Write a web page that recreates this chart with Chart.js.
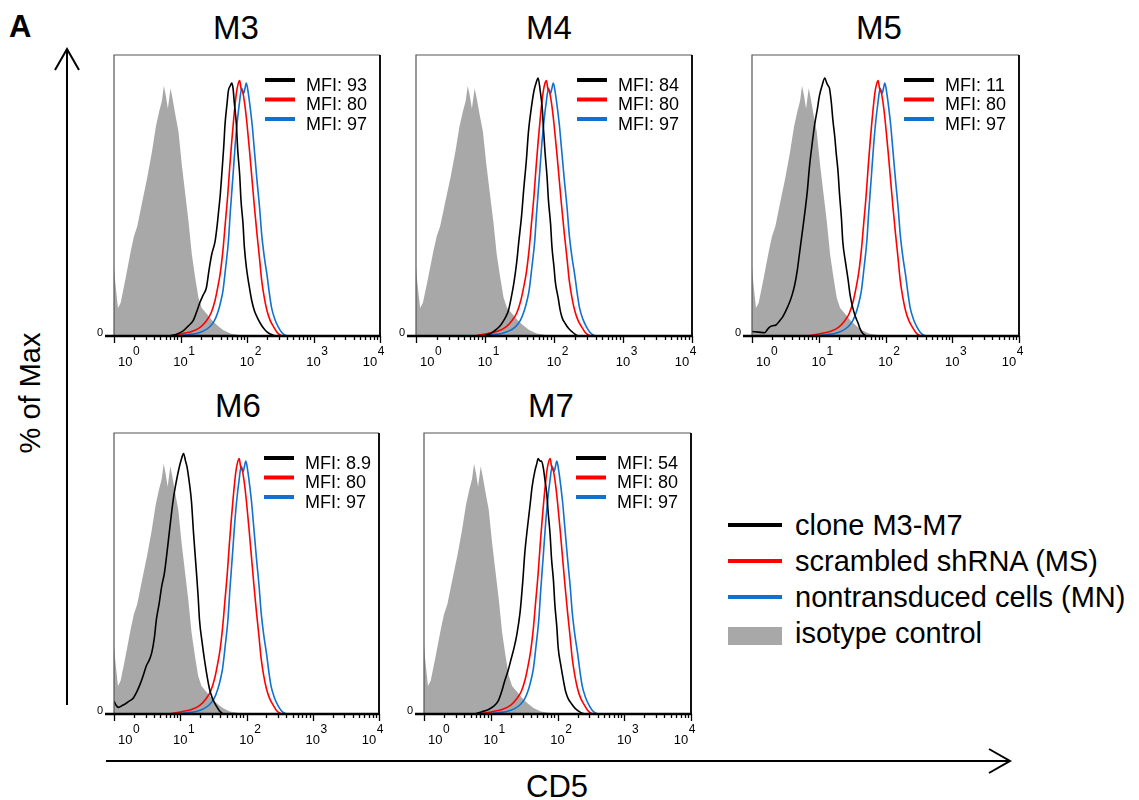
<!DOCTYPE html>
<html>
<head>
<meta charset="utf-8">
<script src="https://cdn.jsdelivr.net/npm/chart.js@4.4.0/dist/chart.umd.min.js"></script>
<style>
  body { margin: 0; background: #fff; }
  #fig { position: relative; width: 1139px; height: 800px; font-family: 'Liberation Sans', Arial, sans-serif; color: #000; overflow: hidden; }
  #fig canvas { position: absolute; }
  .lbl { position: absolute; white-space: nowrap; line-height: 1; }
  .title { font-size: 33px; transform: translate(-50%, -50%); }
  .leg { position: absolute; left: 728px; width: 54px; }
  .legtxt { position: absolute; left: 795px; font-size: 29px; transform: translateY(-50%); white-space: nowrap; }
</style>
</head>
<body>
<div id="fig">
  <svg width="1139" height="800" style="position:absolute;left:0;top:0">
    <g stroke="#000" stroke-width="2" fill="none">
      <line x1="67" y1="705" x2="67" y2="49"/>
      <polyline points="55,70 67,49 79,70"/>
      <line x1="106" y1="761" x2="1010" y2="761"/>
      <polyline points="989,749 1010,761 989,773"/>
    </g>
  </svg>
  <div class="lbl" style="left:9px;top:11px;font-size:31px;font-weight:bold">A</div>
  <div class="lbl" style="left:30px;top:393px;font-size:29px;transform:translate(-50%,-50%) rotate(-90deg)">% of Max</div>
  <div class="lbl" style="left:557px;top:786px;font-size:31px;transform:translate(-50%,-50%)">CD5</div>

  <div class="leg" style="top:523px;height:4px;background:#000"></div>
  <div class="leg" style="top:559px;height:4px;background:#ff0000"></div>
  <div class="leg" style="top:595px;height:4px;background:#1170d0"></div>
  <div class="leg" style="top:627px;height:18px;background:#a8a8a8"></div>
  <div class="legtxt" style="top:525px">clone M3-M7</div>
  <div class="legtxt" style="top:561px">scrambled shRNA (MS)</div>
  <div class="legtxt" style="top:597px">nontransduced cells (MN)</div>
  <div class="legtxt" style="top:633px">isotype control</div>
</div>

<script>
// decades of the CD5 axis (10^0 .. 10^4)
const decades = [0, 1, 2, 3, 4];

// isotype control (grey, same in every panel) - x in log10(CD5), y in % of max
const isoLog = [0, 0.015, 0.06, 0.1, 0.17, 0.25, 0.3, 0.35, 0.42, 0.5, 0.57, 0.63, 0.68, 0.72, 0.75, 0.78, 0.81, 0.85, 0.88, 0.92, 0.97, 1.02, 1.07, 1.12, 1.17, 1.22, 1.27, 1.32, 1.40, 1.48, 1.56, 1.64, 1.75, 1.9, 2.05, 4];
const isoPct = [27, 22, 11, 13, 22, 33, 39, 43, 52, 62, 72, 82, 88, 92, 98, 94, 89, 97, 93, 87, 80, 67, 56, 45, 32, 23, 15, 11, 8.5, 6, 4, 2.3, 1, 0.3, 0, 0];

// scrambled shRNA (MS), red, MFI 80
const msLog = [0.84, 1.0, 1.19, 1.30, 1.39, 1.46, 1.52, 1.56, 1.60, 1.64, 1.67, 1.71, 1.74, 1.77, 1.80, 1.84, 1.87, 1.89, 1.91, 1.94, 1.97, 2.00, 2.04, 2.07, 2.11, 2.15, 2.19, 2.22, 2.26, 2.30, 2.35, 2.40, 2.45, 2.50, 2.56, 4];
const msPct = [0, 0.8, 2, 3.5, 6, 9, 14, 19, 25, 34, 43, 55, 66, 76, 85, 95, 99, 100, 97, 95, 90, 83, 72, 63, 51, 40, 30, 22, 15, 10, 6, 3.6, 1.5, 0.4, 0, 0];

// nontransduced cells (MN), blue, MFI 97
const mnLog = [0.94, 1.10, 1.24, 1.35, 1.44, 1.51, 1.57, 1.61, 1.64, 1.68, 1.72, 1.75, 1.79, 1.82, 1.85, 1.89, 1.92, 1.95, 1.97, 1.99, 2.02, 2.05, 2.08, 2.10, 2.13, 2.15, 2.19, 2.22, 2.26, 2.30, 2.34, 2.37, 2.42, 2.47, 2.52, 2.57, 2.62, 4];
const mnPct = [0, 0.5, 1, 2, 3.6, 6, 10, 14, 18, 27, 37, 49, 63, 74, 83, 92, 97, 95, 97, 99, 95, 89, 82, 76, 67, 61, 50, 40, 31, 24, 16, 11, 6.5, 3.6, 1.5, 0.4, 0, 0];

// clones (black)
const m3Log = [0.84, 0.95, 1.04, 1.12, 1.19, 1.25, 1.29, 1.34, 1.39, 1.43, 1.47, 1.52, 1.55, 1.57, 1.60, 1.62, 1.65, 1.67, 1.70, 1.72, 1.75, 1.77, 1.79, 1.81, 1.84, 1.86, 1.89, 1.91, 1.94, 1.96, 1.99, 2.03, 2.07, 2.11, 2.15, 2.20, 2.25, 2.30, 2.35, 2.45, 4];
const m3Pct = [0, 0.8, 2, 4, 6, 10, 13, 16, 19, 26, 32, 37, 43, 48, 56, 63, 74, 83, 91, 96, 98, 99, 97, 91, 83, 73, 63, 53, 44, 35, 27, 20, 14, 10, 7.5, 5, 3, 1.6, 0.8, 0, 0];

const m4Log = [0.98, 1.08, 1.15, 1.22, 1.27, 1.31, 1.34, 1.38, 1.42, 1.46, 1.49, 1.53, 1.56, 1.60, 1.63, 1.67, 1.71, 1.74, 1.77, 1.80, 1.83, 1.85, 1.87, 1.90, 1.92, 1.95, 1.97, 2.00, 2.02, 2.06, 2.09, 2.12, 2.16, 2.21, 2.26, 2.31, 2.36, 4];
const m4Pct = [0, 1, 2.3, 4, 6, 8, 10, 15, 21, 29, 37, 47, 57, 69, 80, 89, 96, 99, 101, 96, 89, 80, 72, 62, 53, 44, 35, 27, 21, 15, 10, 7, 5, 3, 1.7, 0.6, 0, 0];

const m5Log = [0, 0.1, 0.19, 0.23, 0.26, 0.31, 0.36, 0.41, 0.46, 0.51, 0.56, 0.60, 0.64, 0.68, 0.71, 0.75, 0.79, 0.83, 0.86, 0.90, 0.94, 0.98, 1.01, 1.05, 1.09, 1.12, 1.14, 1.16, 1.19, 1.21, 1.24, 1.26, 1.29, 1.31, 1.34, 1.36, 1.40, 1.44, 1.47, 1.51, 1.55, 1.59, 1.62, 1.66, 1.74, 4];
const m5Pct = [1.7, 1.5, 1.3, 2.5, 3.4, 4, 4.3, 5.8, 7.5, 10, 13, 16, 20, 26, 32, 40, 48, 57, 66, 75, 83, 89, 94, 98, 101, 99, 98, 97, 91, 85, 78, 72, 64, 56, 46, 37, 29, 22, 16, 11, 7.5, 5, 2.8, 1, 0, 0];

const m6Log = [0, 0.03, 0.065, 0.13, 0.19, 0.24, 0.29, 0.34, 0.39, 0.44, 0.49, 0.53, 0.57, 0.61, 0.64, 0.68, 0.72, 0.76, 0.79, 0.83, 0.87, 0.90, 0.94, 0.98, 1.02, 1.05, 1.08, 1.10, 1.14, 1.17, 1.20, 1.24, 1.27, 1.29, 1.33, 1.37, 1.41, 1.44, 1.48, 1.52, 1.56, 1.59, 1.67, 4];
const m6Pct = [5, 3.5, 2.6, 3.4, 4.3, 5.2, 6.2, 8.5, 11.4, 15, 19, 21, 24, 30, 37, 43, 50, 55, 61, 70, 79, 85, 91, 96, 100, 102, 99, 97, 90, 83, 71, 57, 46, 37, 28, 20.5, 14, 10, 6.5, 4.3, 2.5, 1.3, 0, 0];

const m7Log = [0.76, 0.86, 0.96, 1.04, 1.11, 1.16, 1.21, 1.26, 1.31, 1.35, 1.39, 1.44, 1.48, 1.51, 1.55, 1.59, 1.62, 1.66, 1.69, 1.71, 1.74, 1.76, 1.79, 1.81, 1.84, 1.86, 1.89, 1.91, 1.94, 1.96, 1.99, 2.01, 2.05, 2.09, 2.12, 2.16, 2.21, 2.26, 2.31, 2.36, 2.44, 4];
const m7Pct = [0, 0.8, 1.7, 3, 5, 8.5, 13, 17, 22, 26, 31, 40, 52, 63, 73, 82, 89, 95, 98, 100, 99, 99, 96, 92, 86, 79, 70, 61, 52, 43, 34, 26, 19, 13, 9, 6, 4, 2.3, 1.2, 0.4, 0, 0];

const panelNames = ['M3', 'M4', 'M5', 'M6', 'M7'];
const cloneMfi = ['93', '84', '11', '8.9', '54'];
const msMfi = '80';
const mnMfi = '97';
const cloneLogs = [m3Log, m4Log, m5Log, m6Log, m7Log];
const clonePcts = [m3Pct, m4Pct, m5Pct, m6Pct, m7Pct];

// plot boxes on the page (layout only)
const boxes = [
  { l: 114, t: 55, r: 380, b: 336 },
  { l: 416, t: 55, r: 692, b: 336 },
  { l: 752, t: 55, r: 1019, b: 336 },
  { l: 114, t: 433, r: 379, b: 714 },
  { l: 424, t: 433, r: 691, b: 714 }
];
const titlePos = [[236, 27], [549, 27], [879, 27], [238, 405], [551, 405]];

const BLACK = '#000000', RED = '#ff0000', BLUE = '#1170d0', GREY = '#a8a8a8';
const FONT = "'Liberation Sans', Arial, sans-serif";

function pts(logs, pcts) {
  return logs.map((d, i) => ({ x: Math.pow(10, d), y: pcts[i] }));
}

// frame, ticks, decade labels and the little MFI legend of each panel
const panelDeco = {
  id: 'panelDeco',
  afterDatasetsDraw(chart, args, opts) {
    const ctx = chart.ctx;
    const a = chart.chartArea;
    const xs = chart.scales.x;
    ctx.save();

    ctx.strokeStyle = '#555';
    ctx.lineWidth = 1.2;
    ctx.beginPath();
    ctx.moveTo(a.left, a.bottom);
    ctx.lineTo(a.left, a.top);
    ctx.lineTo(a.right, a.top);
    ctx.stroke();
    ctx.strokeStyle = '#111';
    ctx.lineWidth = 2;
    ctx.beginPath();
    ctx.moveTo(a.right, a.top);
    ctx.lineTo(a.right, a.bottom);
    ctx.stroke();

    // baseline + y tick at 0
    ctx.strokeStyle = '#000';
    ctx.lineWidth = 2.5;
    ctx.beginPath();
    ctx.moveTo(a.left - 9, a.bottom);
    ctx.lineTo(a.right + 1, a.bottom);
    ctx.stroke();

    // x ticks
    ctx.lineWidth = 1.3;
    ctx.beginPath();
    decades.forEach(n => {
      const maxK = n === 4 ? 1 : 9;
      for (let k = 1; k <= maxK; k++) {
        const px = Math.round(xs.getPixelForValue(k * Math.pow(10, n))) + 0.5;
        const len = k === 1 ? 7 : 4;
        ctx.moveTo(px, a.bottom);
        ctx.lineTo(px, a.bottom + len);
      }
    });
    ctx.stroke();

    // decade labels 10^n
    ctx.fillStyle = '#000';
    ctx.textBaseline = 'middle';
    ctx.textAlign = 'left';
    decades.forEach((n, i) => {
      const px = xs.getPixelForValue(Math.pow(10, n));
      ctx.font = '13px ' + FONT;
      const w1 = ctx.measureText('10').width;
      ctx.font = '12px ' + FONT;
      const w2 = ctx.measureText(String(n)).width;
      let start = px - w1 / 2;
      if (i === 0) start = px + 4;
      if (i === decades.length - 1) start = px + 4 - w1 - w2;
      ctx.font = '13px ' + FONT;
      ctx.fillText('10', start, a.bottom + 26);
      ctx.font = '12px ' + FONT;
      ctx.fillText(String(n), start + w1 + 0.5, a.bottom + 16);
    });

    // y "0"
    ctx.font = '11px ' + FONT;
    ctx.textAlign = 'right';
    ctx.fillText('0', a.left - 11, a.bottom - 3);

    // MFI legend
    const rows = [[BLACK, opts.clone], [RED, msMfi], [BLUE, mnMfi]];
    ctx.textAlign = 'left';
    ctx.font = '18px ' + FONT;
    rows.forEach((r, i) => {
      const y = a.top + 25 + i * 19.5;
      ctx.strokeStyle = r[0];
      ctx.lineWidth = 4;
      ctx.beginPath();
      ctx.moveTo(a.right - 115, y);
      ctx.lineTo(a.right - 85, y);
      ctx.stroke();
      ctx.fillText('MFI: ' + r[1], a.right - 74, y + 6);
    });
    ctx.restore();
  }
};

const fig = document.getElementById('fig');
const PAD = { left: 40, right: 10, top: 5, bottom: 40 };

panelNames.forEach((name, i) => {
  const b = boxes[i];
  const cv = document.createElement('canvas');
  const w = b.r - b.l + PAD.left + PAD.right;
  const h = b.b - b.t + PAD.top + PAD.bottom;
  cv.width = w;
  cv.height = h;
  cv.style.left = (b.l - PAD.left) + 'px';
  cv.style.top = (b.t - PAD.top) + 'px';
  cv.style.width = w + 'px';
  cv.style.height = h + 'px';
  fig.appendChild(cv);

  const t = document.createElement('div');
  t.className = 'lbl title';
  t.style.left = titlePos[i][0] + 'px';
  t.style.top = titlePos[i][1] + 'px';
  t.textContent = name;
  fig.appendChild(t);

  const line = (data, color, order) => ({
    data: data,
    borderColor: color,
    borderWidth: 1.6,
    pointRadius: 0,
    fill: false,
    cubicInterpolationMode: 'monotone',
    order: order
  });

  new Chart(cv.getContext('2d'), {
    type: 'line',
    data: {
      datasets: [
        line(pts(cloneLogs[i], clonePcts[i]), BLACK, 0),
        line(pts(msLog, msPct), RED, 1),
        line(pts(mnLog, mnPct), BLUE, 2),
        {
          data: pts(isoLog, isoPct),
          borderWidth: 0,
          borderColor: GREY,
          backgroundColor: GREY,
          pointRadius: 0,
          fill: 'origin',
          tension: 0,
          order: 3
        }
      ]
    },
    options: {
      responsive: false,
      animation: false,
      devicePixelRatio: 1,
      layout: { padding: PAD },
      scales: {
        x: { type: 'logarithmic', min: 1, max: 10000, display: false },
        y: { type: 'linear', min: 0, max: 110, display: false }
      },
      plugins: {
        legend: { display: false },
        tooltip: { enabled: false },
        panelDeco: { clone: cloneMfi[i] }
      }
    },
    plugins: [panelDeco]
  });
});
</script>
</body>
</html>
